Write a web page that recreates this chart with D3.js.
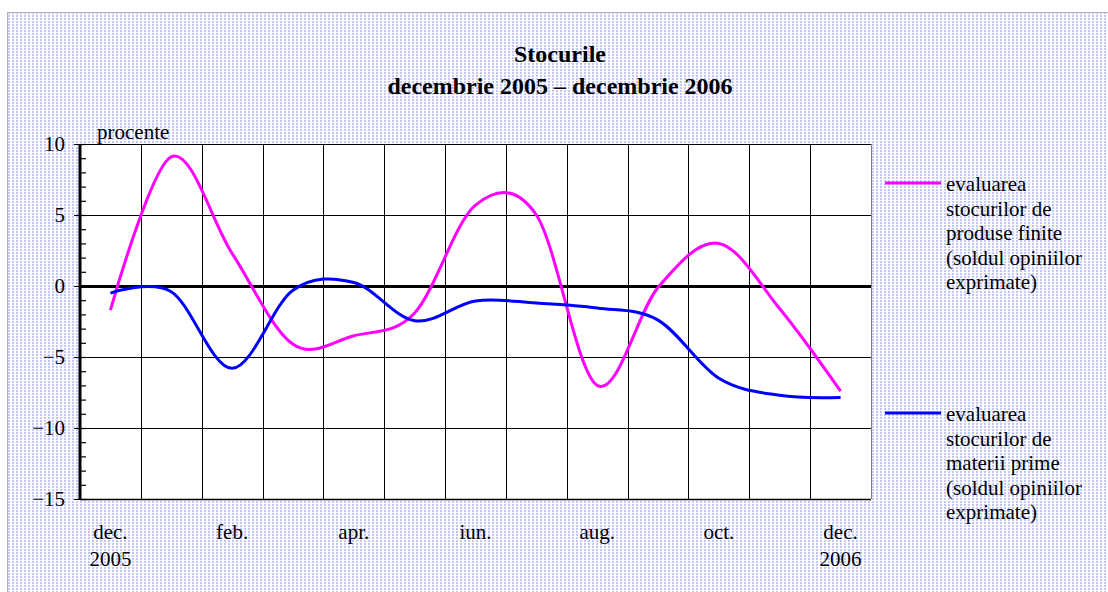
<!DOCTYPE html>
<html>
<head>
    <meta charset="UTF-8">
    <title>Stocurile</title>
    <script src="https://cdn.jsdelivr.net/npm/d3@7"></script>
    <style>
        body { margin: 0; background: #fff; }
        svg text { font-family: "Liberation Serif", "Times New Roman", serif; fill: #000; }
    </style>
</head>
<body>
<svg id="chart" width="1108" height="592"></svg>
<script>
    // categories: dec 2005 .. dec 2006
    const months = ["dec.", "ian.", "feb.", "mar.", "apr.", "mai", "iun.", "iul.", "aug.", "sep.", "oct.", "nov.", "dec."];
    const shownLabels = ["dec.", "", "feb.", "", "apr.", "", "iun.", "", "aug.", "", "oct.", "", "dec."];
    const yearLabels = ["2005", "", "", "", "", "", "", "", "", "", "", "", "2006"];

    // series values (soldul opiniilor, procente)
    const produseFinite = [-1.7, 9.1, 2.3, -4.1, -3.5, -1.9, 5.7, 5.0, -7.0, -0.1, 3.0, -1.6, -7.4];
    const materiiPrime = [-0.5, -0.4, -5.8, -0.3, 0.25, -2.45, -1.05, -1.2, -1.55, -2.4, -6.5, -7.7, -7.85];

    const yTicks = [-15, -10, -5, 0, 5, 10];
    const legendFinite = ["evaluarea", "stocurilor de", "produse finite", "(soldul opiniilor", "exprimate)"];
    const legendPrime = ["evaluarea", "stocurilor de", "materii prime", "(soldul opiniilor", "exprimate)"];

    const svg = d3.select("#chart");

    // dotted background
    const pat = svg.append("defs").append("pattern")
        .attr("id", "dots")
        .attr("width", 4).attr("height", 3)
        .attr("patternUnits", "userSpaceOnUse");
    pat.append("rect").attr("width", 4).attr("height", 3).attr("fill", "#fff");
    pat.append("rect").attr("width", 2).attr("height", 2).attr("fill", "#c2c6fa");

    svg.append("rect")
        .attr("x", 7.5).attr("y", 12.5)
        .attr("width", 1120).attr("height", 600)
        .attr("fill", "url(#dots)")
        .attr("stroke", "#b0b0b0");

    const pLeft = 80, pRight = 871, pTop = 144, pBottom = 499;

    const x = d3.scaleBand().domain(d3.range(months.length)).range([pLeft, pRight]);
    const y = d3.scaleLinear().domain([-15, 10]).range([pBottom, pTop]);

    // plot area
    svg.append("rect")
        .attr("x", pLeft).attr("y", pTop)
        .attr("width", pRight - pLeft).attr("height", pBottom - pTop)
        .attr("fill", "#fff");

    // vertical gridlines at category boundaries
    svg.append("g")
        .selectAll("line")
        .data(d3.range(1, months.length))
        .join("line")
        .attr("x1", d => Math.round(x(d)) + 0.5).attr("x2", d => Math.round(x(d)) + 0.5)
        .attr("y1", pTop).attr("y2", pBottom)
        .attr("stroke", "#000").attr("stroke-width", 1);

    // horizontal gridlines
    svg.append("g")
        .selectAll("line")
        .data(yTicks)
        .join("line")
        .attr("x1", pLeft).attr("x2", pRight)
        .attr("y1", d => Math.round(y(d)) + 0.5).attr("y2", d => Math.round(y(d)) + 0.5)
        .attr("stroke", "#000")
        .attr("stroke-width", d => d === 0 ? 3 : 1);

    // plot border right (gray) and bottom
    svg.append("line")
        .attr("x1", pRight + 0.5).attr("x2", pRight + 0.5)
        .attr("y1", pTop).attr("y2", pBottom)
        .attr("stroke", "#808080");
    svg.append("line")
        .attr("x1", pLeft).attr("x2", pRight)
        .attr("y1", pBottom + 0.5).attr("y2", pBottom + 0.5)
        .attr("stroke", "#000").attr("stroke-width", 1.5);

    // minor ticks inside, every unit
    svg.append("g")
        .attr("transform", `translate(${pLeft},0)`)
        .call(d3.axisRight(y).tickValues(d3.range(-15, 11)).tickSize(6).tickFormat(""))
        .call(g => g.select(".domain").remove())
        .call(g => g.selectAll("line").attr("stroke", "#000").attr("stroke-width", 1.2));

    // left axis with labels
    svg.append("g")
        .attr("transform", `translate(${pLeft},0)`)
        .call(d3.axisLeft(y).tickValues(yTicks).tickSize(6).tickPadding(9))
        .call(g => g.select(".domain").attr("stroke", "#000").attr("stroke-width", 3).attr("d", `M0,${pTop}V${pBottom + 1}`))
        .call(g => g.selectAll("line").attr("stroke", "#000"))
        .call(g => g.selectAll("text")
            .attr("font-size", 21)
            .attr("font-family", "Liberation Serif, serif"));

    // x labels
    const xl = svg.append("g");
    xl.selectAll("text.m")
        .data(shownLabels)
        .join("text")
        .attr("class", "m")
        .attr("x", (d, i) => x(i) + x.bandwidth() / 2)
        .attr("y", 539)
        .attr("text-anchor", "middle")
        .attr("font-size", 21)
        .text(d => d);
    xl.selectAll("text.yr")
        .data(yearLabels)
        .join("text")
        .attr("class", "yr")
        .attr("x", (d, i) => x(i) + x.bandwidth() / 2)
        .attr("y", 566)
        .attr("text-anchor", "middle")
        .attr("font-size", 21)
        .text(d => d);

    // unit label
    svg.append("text")
        .attr("x", 97).attr("y", 139)
        .attr("font-size", 21)
        .text("procente");

    // title
    svg.append("text")
        .attr("x", 560).attr("y", 62)
        .attr("text-anchor", "middle")
        .attr("font-size", 24).attr("font-weight", "bold")
        .text("Stocurile");
    svg.append("text")
        .attr("x", 560).attr("y", 94)
        .attr("text-anchor", "middle")
        .attr("font-size", 24).attr("font-weight", "bold")
        .text("decembrie 2005 – decembrie 2006");

    // smoothed lines
    const line = d3.line()
        .x((d, i) => x(i) + x.bandwidth() / 2)
        .y(d => y(d))
        .curve(d3.curveCardinal.tension(0));

    svg.append("path")
        .datum(produseFinite)
        .attr("d", line)
        .attr("fill", "none")
        .attr("stroke", "#ff00ff")
        .attr("stroke-width", 3);

    svg.append("path")
        .datum(materiiPrime)
        .attr("d", line)
        .attr("fill", "none")
        .attr("stroke", "#0000ff")
        .attr("stroke-width", 3);

    // legend
    function legend(lines, color, ly) {
        const g = svg.append("g");
        g.append("line")
            .attr("x1", 885).attr("x2", 941)
            .attr("y1", ly).attr("y2", ly)
            .attr("stroke", color).attr("stroke-width", 3);
        g.selectAll("text")
            .data(lines)
            .join("text")
            .attr("x", 946)
            .attr("y", (d, i) => ly + 8 + i * 24.5)
            .attr("font-size", 21)
            .text(d => d);
    }
    legend(legendFinite, "#ff00ff", 183);
    legend(legendPrime, "#0000ff", 413);
</script>
</body>
</html>
